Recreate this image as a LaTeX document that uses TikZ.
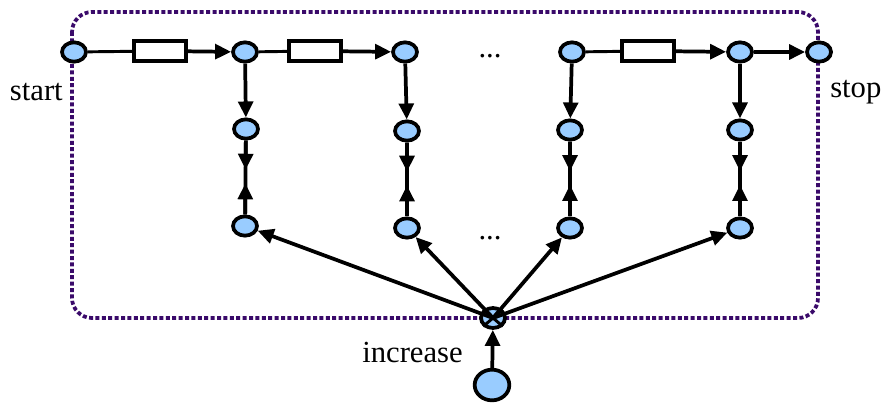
\documentclass[tikz,border=0pt]{standalone}
\usepackage{fontspec}
\setmainfont{Liberation Serif}
\usetikzlibrary{shapes.geometric,arrows.meta,calc}
\definecolor{nodeblue}{HTML}{99CCFF}
\definecolor{framepurple}{HTML}{3A0A6A}
\tikzset{
  dot/.style={ellipse,draw=black,fill=nodeblue,line width=2.8pt,minimum width=18pt,minimum height=14.5pt,inner sep=0pt},
  bigdot/.style={ellipse,draw=black,fill=nodeblue,line width=2.8pt,minimum width=26pt,minimum height=23pt,inner sep=0pt},
  resbox/.style={rectangle,draw=black,fill=white,line width=2.8pt,minimum width=39pt,minimum height=15pt,inner sep=0pt},
  arr/.style={line width=2.8pt,-{Triangle[length=12pt,width=11pt]}},
  plain/.style={line width=2.2pt},
  lbl/.style={font=\fontsize{23}{26}\selectfont,inner sep=0pt},
}
\begin{document}
\begin{tikzpicture}[x=0.75pt,y=-0.75pt]
\useasboundingbox (0,0) rectangle (884,403);
% frame
\draw[framepurple,line width=2.8pt,dash pattern=on 3pt off 1.8pt,rounded corners=15pt] (72,12) rectangle (818,318);
% top row
\node[dot] (t1) at (74,52) {};
\node[dot] (t2) at (245,52) {};
\node[dot] (t3) at (405,52) {};
\node[dot] (t4) at (572,52) {};
\node[dot] (t5) at (740,52) {};
\node[dot] (t6) at (819,52) {};
\node[resbox] (r1) at (160,51) {};
\node[resbox] (r2) at (315,51) {};
\node[resbox] (r3) at (648,51) {};
\node[lbl] (e1) at (490,56) {...};
% middle and bottom rows
\node[dot] (m2) at (246,129) {};
\node[dot] (m3) at (407,131) {};
\node[dot] (m4) at (570,130) {};
\node[dot] (m5) at (740,130) {};
\node[dot] (b2) at (245,226) {};
\node[dot] (b3) at (407,228) {};
\node[dot] (b4) at (570,228) {};
\node[dot] (b5) at (740,228) {};
\node[lbl] (e2) at (490,238) {...};
% cross node and source
\node[dot,minimum width=18pt,minimum height=15pt] (x) at (493,318) {};
\draw[line width=2.2pt] (x.north west) -- (x.south east) (x.north east) -- (x.south west);
\node[bigdot] (s) at (492,385) {};
% labels
\node[lbl,anchor=east] (lstart) at (63,92) {start};
\node[lbl,anchor=west] (lstop) at (830,92) {stop};
\node[lbl,anchor=east] (linc) at (463,352) {increase};
% top connectors
\draw[plain] (t1) -- (r1);
\draw[arr] (r1) -- (t2);
\draw[plain] (t2) -- (r2);
\draw[arr] (r2) -- (t3);
\draw[plain] (t4) -- (r3);
\draw[arr] (r3) -- (t5);
\draw[line width=3.6pt,-{Triangle[length=12pt,width=11pt]}] (t5) -- (t6);
% verticals
\foreach \c in {2,3,4,5}{
  \draw[arr] (t\c) -- (m\c);
  \draw[line width=2.8pt] (m\c) -- (b\c);
  \draw[arr] (m\c) -- ($(m\c)!0.42!(b\c)$);
  \draw[arr] (b\c) -- ($(m\c)!0.56!(b\c)$);
}
% fan
\draw[arr] (x.center) -- (b2);
\draw[arr] (x.center) -- (b3);
\draw[arr] (x.center) -- (b4);
\draw[arr] (x.center) -- (b5);
\draw[arr] (s) -- (x);
\end{tikzpicture}
\end{document}
